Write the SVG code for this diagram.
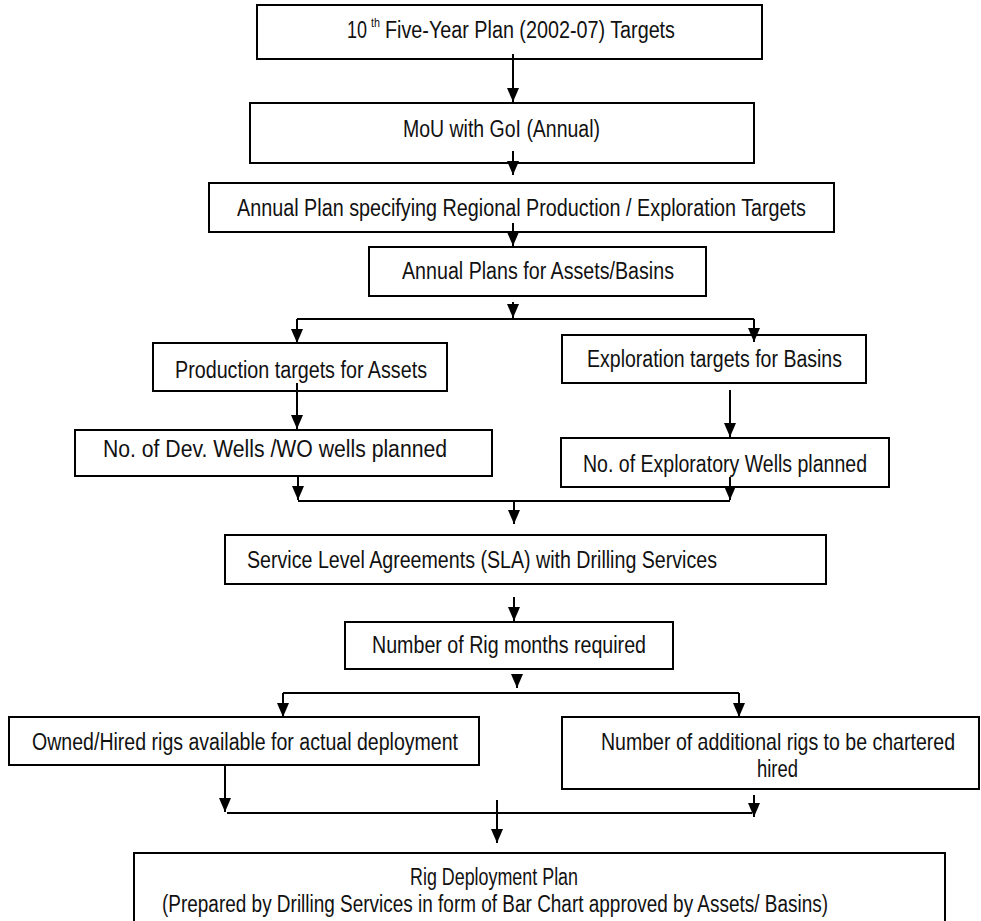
<svg xmlns="http://www.w3.org/2000/svg" width="981" height="921" viewBox="0 0 981 921">
<style>
.box{fill:#fff;stroke:#000;stroke-width:2}
.c{fill:none;stroke:#000;stroke-width:2}
.a{fill:none;stroke:#000;stroke-width:2;marker-end:url(#ah)}
text{font-family:"Liberation Sans Narrow","Arial Narrow","Liberation Sans",Arial,sans-serif;font-size:23px;fill:#111}
.sup{font-size:13px}
</style>
<defs>
<marker id="ah" markerUnits="userSpaceOnUse" viewBox="0 -6 14 12" refX="14" refY="0" markerWidth="14" markerHeight="12" orient="auto">
<path d="M0,-6 L14,0 L0,6 z" fill="#000"/>
</marker>
</defs>
<rect width="981" height="921" fill="#fff"/>

<g id="n1"><rect class="box" x="257" y="5" width="505" height="54"/>
<text x="347" y="38" textLength="20" lengthAdjust="spacingAndGlyphs">10</text>
<text class="sup" x="371" y="27" textLength="9" lengthAdjust="spacingAndGlyphs">th</text>
<text x="385" y="38" textLength="290" lengthAdjust="spacingAndGlyphs">Five-Year Plan (2002-07) Targets</text></g>

<g id="n2"><rect class="box" x="250" y="103" width="504" height="60"/>
<text x="403" y="137" textLength="197" lengthAdjust="spacingAndGlyphs">MoU with GoI (Annual)</text></g>

<g id="n3"><rect class="box" x="209" y="183" width="625" height="49"/>
<text x="237" y="216" textLength="569" lengthAdjust="spacingAndGlyphs">Annual Plan specifying Regional Production / Exploration Targets</text></g>

<g id="n4"><rect class="box" x="369" y="247" width="337" height="49"/>
<text x="402" y="279" textLength="272" lengthAdjust="spacingAndGlyphs">Annual Plans for Assets/Basins</text></g>

<g id="n5"><rect class="box" x="153" y="343" width="294" height="48"/>
<text x="175" y="378" textLength="252" lengthAdjust="spacingAndGlyphs">Production targets for Assets</text></g>

<g id="n6"><rect class="box" x="562" y="335" width="304" height="48"/>
<text x="587" y="367" textLength="255" lengthAdjust="spacingAndGlyphs">Exploration targets for Basins</text></g>

<g id="n7"><rect class="box" x="75" y="430" width="417" height="46"/>
<text x="103" y="457" textLength="344" lengthAdjust="spacingAndGlyphs">No. of Dev. Wells /WO wells planned</text></g>

<g id="n8"><rect class="box" x="561" y="438" width="328" height="49"/>
<text x="583" y="472" textLength="284" lengthAdjust="spacingAndGlyphs">No. of Exploratory Wells planned</text></g>

<g id="n9"><rect class="box" x="225" y="535" width="601" height="49"/>
<text x="247" y="568" textLength="470" lengthAdjust="spacingAndGlyphs">Service Level Agreements (SLA) with Drilling Services</text></g>

<g id="n10"><rect class="box" x="345" y="622" width="328" height="47"/>
<text x="372" y="653" textLength="274" lengthAdjust="spacingAndGlyphs">Number of Rig months required</text></g>

<g id="n11"><rect class="box" x="9" y="717" width="470" height="48"/>
<text x="32" y="750" textLength="426" lengthAdjust="spacingAndGlyphs">Owned/Hired rigs available for actual deployment</text></g>

<g id="n12"><rect class="box" x="562" y="717" width="417" height="72"/>
<text transform="translate(601,750) scale(0.85,1)" x="0" y="0">Number of additional rigs to be chartered</text>
<text x="757" y="777" textLength="41" lengthAdjust="spacingAndGlyphs">hired</text></g>

<g id="n13"><rect class="box" x="134" y="853" width="811" height="80"/>
<text x="410" y="885" textLength="168" lengthAdjust="spacingAndGlyphs">Rig Deployment Plan</text>
<text x="162" y="912" textLength="666" lengthAdjust="spacingAndGlyphs">(Prepared by Drilling Services in form of Bar Chart approved by Assets/ Basins)</text></g>

<g id="connectors">
<line class="a" x1="513" y1="54" x2="513" y2="102"/>
<line class="a" x1="513" y1="151" x2="513" y2="175"/>
<line class="a" x1="513" y1="223" x2="513" y2="246"/>
<line class="a" x1="513" y1="302" x2="513" y2="318"/>
<line class="c" x1="297" y1="319" x2="754" y2="319"/>
<line class="a" x1="297" y1="319" x2="297" y2="343"/>
<line class="a" x1="754" y1="319" x2="754" y2="342"/>
<line class="a" x1="297" y1="383" x2="297" y2="429"/>
<line class="a" x1="730" y1="390" x2="730" y2="437"/>
<line class="a" x1="298" y1="476" x2="298" y2="500"/>
<line class="a" x1="730" y1="477" x2="730" y2="500"/>
<line class="c" x1="298" y1="501" x2="730" y2="501"/>
<line class="a" x1="514" y1="501" x2="514" y2="524"/>
<line class="a" x1="514" y1="597" x2="514" y2="621"/>
<line class="a" x1="517" y1="674" x2="517" y2="688"/>
<line class="c" x1="283" y1="693" x2="739" y2="693"/>
<line class="a" x1="283" y1="693" x2="283" y2="717"/>
<line class="a" x1="739" y1="693" x2="739" y2="717"/>
<line class="a" x1="225" y1="765" x2="225" y2="812"/>
<line class="a" x1="754" y1="795" x2="754" y2="817"/>
<line class="c" x1="227" y1="813" x2="752" y2="813"/>
<line class="a" x1="497" y1="800" x2="497" y2="843"/>
</g>
</svg>
